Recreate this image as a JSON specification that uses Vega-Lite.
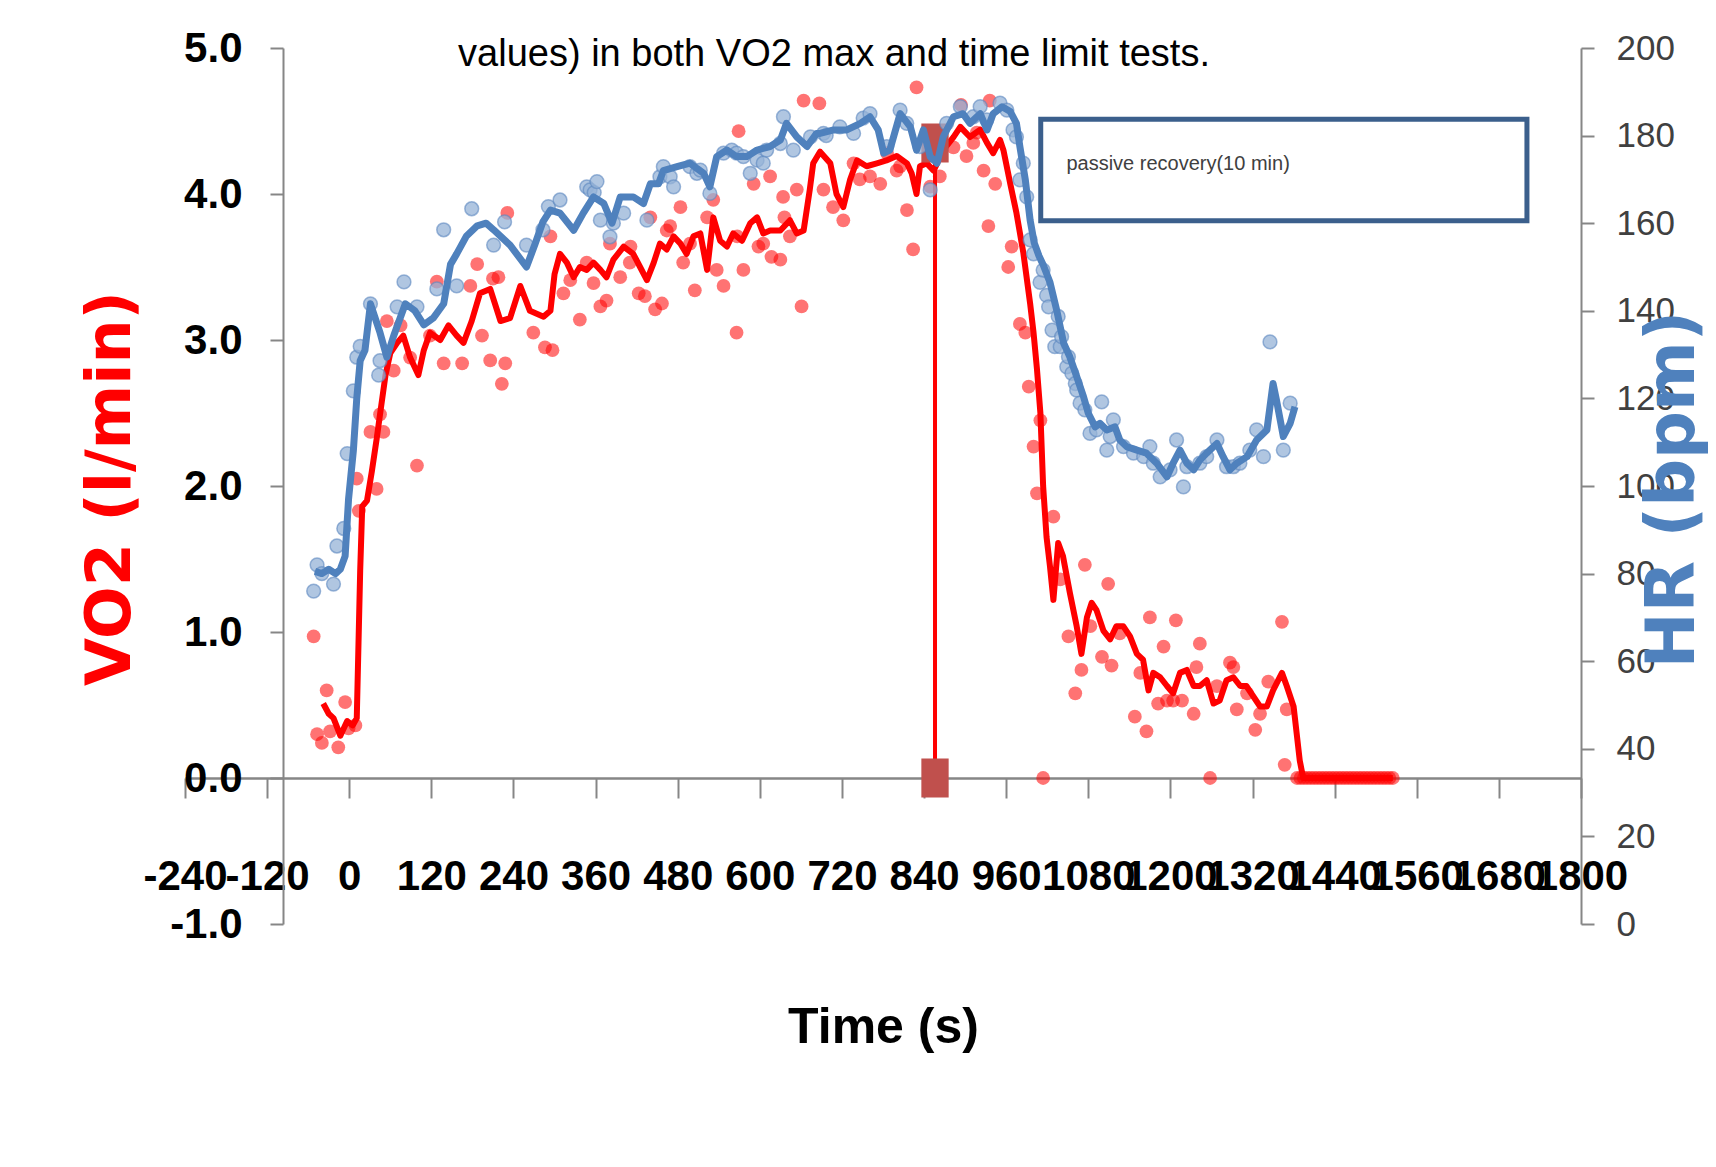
{
  "$schema": "https://vega.github.io/schema/vega-lite/v6.json",
  "width": 1396,
  "height": 876,
  "autosize": {"type": "none"},
  "padding": {"left": 185, "top": 48, "right": 135, "bottom": 243},
  "background": "white",
  "config": {"view": {"stroke": null}},
  "title": {
    "text": "values) in both VO2 max and time limit tests.",
    "font": "Liberation Sans",
    "fontSize": 38,
    "fontWeight": "normal",
    "color": "black",
    "anchor": "middle",
    "frame": "group",
    "offset": 0,
    "baseline": "alphabetic",
    "dx": -49,
    "dy": 77
  },
  "datasets": {
    "vo2_line": [
      {"t": -38, "vo2": 0.51}, {"t": -30, "vo2": 0.44}, {"t": -23, "vo2": 0.41}, {"t": -13, "vo2": 0.29}, {"t": -3, "vo2": 0.39}, {"t": 5, "vo2": 0.36}, {"t": 11, "vo2": 0.41}, {"t": 16, "vo2": 1.42}, {"t": 19, "vo2": 1.86}, {"t": 26, "vo2": 1.9}, {"t": 33, "vo2": 2.1}, {"t": 40, "vo2": 2.32}, {"t": 45, "vo2": 2.49}, {"t": 53, "vo2": 2.76}, {"t": 60, "vo2": 2.91}, {"t": 70, "vo2": 2.98}, {"t": 79, "vo2": 3.03}, {"t": 89, "vo2": 2.88}, {"t": 101, "vo2": 2.76}, {"t": 109, "vo2": 2.93}, {"t": 118, "vo2": 3.05}, {"t": 133, "vo2": 3.0}, {"t": 145, "vo2": 3.1}, {"t": 157, "vo2": 3.03}, {"t": 167, "vo2": 2.98}, {"t": 179, "vo2": 3.13}, {"t": 191, "vo2": 3.32}, {"t": 206, "vo2": 3.35}, {"t": 221, "vo2": 3.13}, {"t": 235, "vo2": 3.15}, {"t": 250, "vo2": 3.37}, {"t": 264, "vo2": 3.2}, {"t": 284, "vo2": 3.16}, {"t": 294, "vo2": 3.2}, {"t": 300, "vo2": 3.45}, {"t": 308, "vo2": 3.59}, {"t": 318, "vo2": 3.53}, {"t": 328, "vo2": 3.43}, {"t": 337, "vo2": 3.5}, {"t": 347, "vo2": 3.48}, {"t": 357, "vo2": 3.53}, {"t": 367, "vo2": 3.48}, {"t": 376, "vo2": 3.43}, {"t": 386, "vo2": 3.55}, {"t": 401, "vo2": 3.64}, {"t": 415, "vo2": 3.59}, {"t": 425, "vo2": 3.5}, {"t": 435, "vo2": 3.41}, {"t": 445, "vo2": 3.53}, {"t": 454, "vo2": 3.66}, {"t": 464, "vo2": 3.62}, {"t": 474, "vo2": 3.71}, {"t": 484, "vo2": 3.66}, {"t": 493, "vo2": 3.59}, {"t": 503, "vo2": 3.71}, {"t": 513, "vo2": 3.73}, {"t": 523, "vo2": 3.48}, {"t": 532, "vo2": 3.84}, {"t": 542, "vo2": 3.68}, {"t": 552, "vo2": 3.64}, {"t": 561, "vo2": 3.73}, {"t": 574, "vo2": 3.68}, {"t": 586, "vo2": 3.8}, {"t": 596, "vo2": 3.84}, {"t": 605, "vo2": 3.73}, {"t": 615, "vo2": 3.75}, {"t": 630, "vo2": 3.75}, {"t": 644, "vo2": 3.82}, {"t": 654, "vo2": 3.73}, {"t": 664, "vo2": 3.75}, {"t": 673, "vo2": 4.03}, {"t": 678, "vo2": 4.21}, {"t": 688, "vo2": 4.29}, {"t": 703, "vo2": 4.21}, {"t": 712, "vo2": 4.0}, {"t": 722, "vo2": 3.91}, {"t": 732, "vo2": 4.1}, {"t": 742, "vo2": 4.23}, {"t": 756, "vo2": 4.19}, {"t": 771, "vo2": 4.21}, {"t": 785, "vo2": 4.23}, {"t": 800, "vo2": 4.26}, {"t": 815, "vo2": 4.21}, {"t": 822, "vo2": 4.14}, {"t": 829, "vo2": 4.0}, {"t": 834, "vo2": 4.19}, {"t": 844, "vo2": 4.21}, {"t": 854, "vo2": 4.16}, {"t": 868, "vo2": 4.3}, {"t": 883, "vo2": 4.39}, {"t": 893, "vo2": 4.46}, {"t": 907, "vo2": 4.39}, {"t": 922, "vo2": 4.44}, {"t": 932, "vo2": 4.35}, {"t": 941, "vo2": 4.28}, {"t": 951, "vo2": 4.37}, {"t": 956, "vo2": 4.3}, {"t": 966, "vo2": 4.07}, {"t": 975, "vo2": 3.87}, {"t": 985, "vo2": 3.6}, {"t": 995, "vo2": 3.25}, {"t": 1000, "vo2": 3.05}, {"t": 1005, "vo2": 2.8}, {"t": 1010, "vo2": 2.5}, {"t": 1014, "vo2": 2.0}, {"t": 1019, "vo2": 1.65}, {"t": 1024, "vo2": 1.45}, {"t": 1029, "vo2": 1.22}, {"t": 1036, "vo2": 1.61}, {"t": 1043, "vo2": 1.52}, {"t": 1053, "vo2": 1.27}, {"t": 1063, "vo2": 1.04}, {"t": 1070, "vo2": 0.85}, {"t": 1078, "vo2": 1.1}, {"t": 1085, "vo2": 1.2}, {"t": 1092, "vo2": 1.15}, {"t": 1102, "vo2": 1.01}, {"t": 1112, "vo2": 0.95}, {"t": 1121, "vo2": 1.04}, {"t": 1131, "vo2": 1.04}, {"t": 1141, "vo2": 0.97}, {"t": 1151, "vo2": 0.85}, {"t": 1160, "vo2": 0.81}, {"t": 1168, "vo2": 0.6}, {"t": 1175, "vo2": 0.72}, {"t": 1185, "vo2": 0.69}, {"t": 1195, "vo2": 0.63}, {"t": 1204, "vo2": 0.58}, {"t": 1214, "vo2": 0.72}, {"t": 1224, "vo2": 0.74}, {"t": 1234, "vo2": 0.63}, {"t": 1243, "vo2": 0.63}, {"t": 1253, "vo2": 0.67}, {"t": 1263, "vo2": 0.51}, {"t": 1272, "vo2": 0.53}, {"t": 1282, "vo2": 0.67}, {"t": 1292, "vo2": 0.69}, {"t": 1302, "vo2": 0.63}, {"t": 1311, "vo2": 0.63}, {"t": 1321, "vo2": 0.56}, {"t": 1331, "vo2": 0.49}, {"t": 1341, "vo2": 0.49}, {"t": 1350, "vo2": 0.6}, {"t": 1363, "vo2": 0.72}, {"t": 1370, "vo2": 0.63}, {"t": 1380, "vo2": 0.49}, {"t": 1389, "vo2": 0.12}, {"t": 1394, "vo2": 0}, {"t": 1525, "vo2": 0}
    ],
    "vo2_points": [
      {"t": -52, "vo2": 0.97}, {"t": -47, "vo2": 0.3}, {"t": -40, "vo2": 0.24}, {"t": -33, "vo2": 0.6}, {"t": -28, "vo2": 0.32}, {"t": -16, "vo2": 0.21}, {"t": -6, "vo2": 0.52}, {"t": -1, "vo2": 0.34}, {"t": 9, "vo2": 0.36}, {"t": 11, "vo2": 2.05}, {"t": 14, "vo2": 1.83}, {"t": 31, "vo2": 2.37}, {"t": 40, "vo2": 1.98}, {"t": 45, "vo2": 2.49}, {"t": 50, "vo2": 2.37}, {"t": 55, "vo2": 3.13}, {"t": 65, "vo2": 2.79}, {"t": 75, "vo2": 3.1}, {"t": 89, "vo2": 2.88}, {"t": 99, "vo2": 2.14}, {"t": 118, "vo2": 3.03}, {"t": 128, "vo2": 3.4}, {"t": 138, "vo2": 2.84}, {"t": 165, "vo2": 2.84}, {"t": 177, "vo2": 3.37}, {"t": 187, "vo2": 3.52}, {"t": 194, "vo2": 3.03}, {"t": 206, "vo2": 2.86}, {"t": 210, "vo2": 3.42}, {"t": 218, "vo2": 3.43}, {"t": 223, "vo2": 2.7}, {"t": 228, "vo2": 2.84}, {"t": 231, "vo2": 3.87}, {"t": 269, "vo2": 3.05}, {"t": 286, "vo2": 2.95}, {"t": 294, "vo2": 3.71}, {"t": 297, "vo2": 2.93}, {"t": 313, "vo2": 3.32}, {"t": 323, "vo2": 3.41}, {"t": 337, "vo2": 3.14}, {"t": 347, "vo2": 3.53}, {"t": 357, "vo2": 3.39}, {"t": 367, "vo2": 3.23}, {"t": 376, "vo2": 3.27}, {"t": 381, "vo2": 3.66}, {"t": 396, "vo2": 3.43}, {"t": 410, "vo2": 3.53}, {"t": 411, "vo2": 3.64}, {"t": 423, "vo2": 3.32}, {"t": 432, "vo2": 3.3}, {"t": 440, "vo2": 3.84}, {"t": 447, "vo2": 3.21}, {"t": 457, "vo2": 3.25}, {"t": 464, "vo2": 3.75}, {"t": 469, "vo2": 3.78}, {"t": 484, "vo2": 3.91}, {"t": 488, "vo2": 3.53}, {"t": 498, "vo2": 3.66}, {"t": 505, "vo2": 3.34}, {"t": 523, "vo2": 3.84}, {"t": 532, "vo2": 3.96}, {"t": 537, "vo2": 3.48}, {"t": 547, "vo2": 3.37}, {"t": 566, "vo2": 3.05}, {"t": 567, "vo2": 3.71}, {"t": 569, "vo2": 4.43}, {"t": 576, "vo2": 3.48}, {"t": 591, "vo2": 4.07}, {"t": 598, "vo2": 3.64}, {"t": 605, "vo2": 3.66}, {"t": 615, "vo2": 4.12}, {"t": 617, "vo2": 3.57}, {"t": 630, "vo2": 3.55}, {"t": 634, "vo2": 3.98}, {"t": 636, "vo2": 3.84}, {"t": 644, "vo2": 3.71}, {"t": 654, "vo2": 4.03}, {"t": 661, "vo2": 3.23}, {"t": 664, "vo2": 4.64}, {"t": 687, "vo2": 4.62}, {"t": 693, "vo2": 4.03}, {"t": 707, "vo2": 3.91}, {"t": 722, "vo2": 3.82}, {"t": 737, "vo2": 4.21}, {"t": 746, "vo2": 4.1}, {"t": 761, "vo2": 4.12}, {"t": 776, "vo2": 4.07}, {"t": 786, "vo2": 4.28}, {"t": 800, "vo2": 4.16}, {"t": 805, "vo2": 4.19}, {"t": 815, "vo2": 3.89}, {"t": 824, "vo2": 3.62}, {"t": 829, "vo2": 4.73}, {"t": 849, "vo2": 4.05}, {"t": 863, "vo2": 4.12}, {"t": 883, "vo2": 4.32}, {"t": 894, "vo2": 4.61}, {"t": 902, "vo2": 4.26}, {"t": 912, "vo2": 4.35}, {"t": 917, "vo2": 4.42}, {"t": 927, "vo2": 4.16}, {"t": 934, "vo2": 3.78}, {"t": 936, "vo2": 4.64}, {"t": 944, "vo2": 4.07}, {"t": 963, "vo2": 3.5}, {"t": 968, "vo2": 3.64}, {"t": 980, "vo2": 3.11}, {"t": 988, "vo2": 3.05}, {"t": 993, "vo2": 2.68}, {"t": 1000, "vo2": 2.27}, {"t": 1005, "vo2": 1.95}, {"t": 1010, "vo2": 2.45}, {"t": 1014, "vo2": 0}, {"t": 1029, "vo2": 1.79}, {"t": 1039, "vo2": 1.36}, {"t": 1051, "vo2": 0.97}, {"t": 1061, "vo2": 0.58}, {"t": 1070, "vo2": 0.74}, {"t": 1075, "vo2": 1.46}, {"t": 1083, "vo2": 1.04}, {"t": 1100, "vo2": 0.83}, {"t": 1109, "vo2": 1.33}, {"t": 1114, "vo2": 0.77}, {"t": 1126, "vo2": 0.99}, {"t": 1148, "vo2": 0.42}, {"t": 1156, "vo2": 0.72}, {"t": 1165, "vo2": 0.32}, {"t": 1170, "vo2": 1.1}, {"t": 1182, "vo2": 0.51}, {"t": 1190, "vo2": 0.9}, {"t": 1195, "vo2": 0.53}, {"t": 1204, "vo2": 0.53}, {"t": 1208, "vo2": 1.08}, {"t": 1217, "vo2": 0.53}, {"t": 1234, "vo2": 0.44}, {"t": 1238, "vo2": 0.76}, {"t": 1243, "vo2": 0.92}, {"t": 1258, "vo2": 0}, {"t": 1268, "vo2": 0.63}, {"t": 1287, "vo2": 0.79}, {"t": 1292, "vo2": 0.76}, {"t": 1297, "vo2": 0.47}, {"t": 1312, "vo2": 0.58}, {"t": 1324, "vo2": 0.33}, {"t": 1331, "vo2": 0.44}, {"t": 1343, "vo2": 0.66}, {"t": 1363, "vo2": 1.07}, {"t": 1367, "vo2": 0.09}, {"t": 1370, "vo2": 0.47},
      {"t": 1385, "vo2": 0}, {"t": 1390, "vo2": 0}, {"t": 1395, "vo2": 0}, {"t": 1400, "vo2": 0}, {"t": 1405, "vo2": 0}, {"t": 1410, "vo2": 0}, {"t": 1415, "vo2": 0}, {"t": 1420, "vo2": 0}, {"t": 1425, "vo2": 0}, {"t": 1430, "vo2": 0}, {"t": 1435, "vo2": 0}, {"t": 1440, "vo2": 0}, {"t": 1445, "vo2": 0}, {"t": 1450, "vo2": 0}, {"t": 1455, "vo2": 0}, {"t": 1460, "vo2": 0}, {"t": 1465, "vo2": 0}, {"t": 1470, "vo2": 0}, {"t": 1475, "vo2": 0}, {"t": 1480, "vo2": 0}, {"t": 1485, "vo2": 0}, {"t": 1490, "vo2": 0}, {"t": 1495, "vo2": 0}, {"t": 1500, "vo2": 0}, {"t": 1505, "vo2": 0}, {"t": 1510, "vo2": 0}, {"t": 1515, "vo2": 0}, {"t": 1520, "vo2": 0}, {"t": 1525, "vo2": 0}
    ],
    "hr_line": [
      {"t": -50, "hr": 80.5}, {"t": -40, "hr": 80}, {"t": -30, "hr": 81}, {"t": -20, "hr": 80}, {"t": -13, "hr": 81}, {"t": -6, "hr": 84}, {"t": -1, "hr": 97}, {"t": 6, "hr": 108}, {"t": 11, "hr": 120}, {"t": 16, "hr": 128.6}, {"t": 23, "hr": 131}, {"t": 31, "hr": 141.6}, {"t": 45, "hr": 135}, {"t": 55, "hr": 129.4}, {"t": 65, "hr": 134.3}, {"t": 82, "hr": 141.6}, {"t": 96, "hr": 140}, {"t": 109, "hr": 136.8}, {"t": 123, "hr": 138.4}, {"t": 138, "hr": 141.6}, {"t": 148, "hr": 150.6}, {"t": 157, "hr": 153}, {"t": 171, "hr": 157}, {"t": 187, "hr": 159.4}, {"t": 200, "hr": 160}, {"t": 211, "hr": 158.5}, {"t": 235, "hr": 155}, {"t": 259, "hr": 150}, {"t": 271, "hr": 155}, {"t": 283, "hr": 160.3}, {"t": 294, "hr": 163}, {"t": 308, "hr": 162.3}, {"t": 328, "hr": 158.4}, {"t": 342, "hr": 162.3}, {"t": 357, "hr": 166}, {"t": 372, "hr": 164.5}, {"t": 384, "hr": 160}, {"t": 396, "hr": 166}, {"t": 415, "hr": 166}, {"t": 430, "hr": 164.5}, {"t": 440, "hr": 169}, {"t": 452, "hr": 169}, {"t": 459, "hr": 172}, {"t": 479, "hr": 172.9}, {"t": 498, "hr": 173.7}, {"t": 508, "hr": 172.5}, {"t": 518, "hr": 171.4}, {"t": 527, "hr": 168.3}, {"t": 537, "hr": 175.2}, {"t": 552, "hr": 176.7}, {"t": 566, "hr": 175.2}, {"t": 581, "hr": 175.2}, {"t": 596, "hr": 176.7}, {"t": 615, "hr": 177.5}, {"t": 630, "hr": 179}, {"t": 639, "hr": 182.8}, {"t": 654, "hr": 179.7}, {"t": 669, "hr": 177.5}, {"t": 683, "hr": 180.5}, {"t": 688, "hr": 180.5}, {"t": 708, "hr": 181.3}, {"t": 727, "hr": 181.3}, {"t": 747, "hr": 182.8}, {"t": 761, "hr": 184.3}, {"t": 773, "hr": 181.3}, {"t": 781, "hr": 176}, {"t": 790, "hr": 176.7}, {"t": 805, "hr": 185}, {"t": 820, "hr": 182}, {"t": 829, "hr": 176.7}, {"t": 839, "hr": 181.3}, {"t": 849, "hr": 175.2}, {"t": 859, "hr": 173.7}, {"t": 868, "hr": 179.7}, {"t": 883, "hr": 184.3}, {"t": 897, "hr": 185}, {"t": 907, "hr": 182.8}, {"t": 922, "hr": 185}, {"t": 932, "hr": 181.3}, {"t": 941, "hr": 185}, {"t": 954, "hr": 186.6}, {"t": 966, "hr": 185.5}, {"t": 975, "hr": 182.8}, {"t": 980, "hr": 177.5}, {"t": 988, "hr": 169.9}, {"t": 995, "hr": 160.7}, {"t": 1001, "hr": 155.5}, {"t": 1008, "hr": 152.5}, {"t": 1014, "hr": 150.5}, {"t": 1024, "hr": 146.5}, {"t": 1034, "hr": 140}, {"t": 1044, "hr": 132.6}, {"t": 1053, "hr": 129.5}, {"t": 1063, "hr": 125}, {"t": 1073, "hr": 120.4}, {"t": 1080, "hr": 116.6}, {"t": 1090, "hr": 113.5}, {"t": 1097, "hr": 114.3}, {"t": 1107, "hr": 112.8}, {"t": 1119, "hr": 113.5}, {"t": 1126, "hr": 110.5}, {"t": 1136, "hr": 109}, {"t": 1151, "hr": 108.2}, {"t": 1165, "hr": 107.5}, {"t": 1180, "hr": 105.2}, {"t": 1195, "hr": 102.1}, {"t": 1204, "hr": 105.2}, {"t": 1214, "hr": 108.2}, {"t": 1224, "hr": 105.2}, {"t": 1234, "hr": 103.7}, {"t": 1243, "hr": 105.9}, {"t": 1253, "hr": 107.5}, {"t": 1268, "hr": 109.7}, {"t": 1277, "hr": 106.7}, {"t": 1287, "hr": 103.7}, {"t": 1297, "hr": 105.2}, {"t": 1312, "hr": 106.7}, {"t": 1326, "hr": 110.5}, {"t": 1341, "hr": 112.8}, {"t": 1350, "hr": 123.4}, {"t": 1355, "hr": 119.6}, {"t": 1365, "hr": 111.3}, {"t": 1375, "hr": 114.3}, {"t": 1382, "hr": 118.1}
    ],
    "hr_points": [
      {"t": -52, "hr": 76}, {"t": -47, "hr": 82}, {"t": -40, "hr": 80}, {"t": -23, "hr": 77.6}, {"t": -18, "hr": 86.3}, {"t": -8, "hr": 90.3}, {"t": -3, "hr": 107.4}, {"t": 6, "hr": 121.7}, {"t": 11, "hr": 129.4}, {"t": 16, "hr": 131.9}, {"t": 31, "hr": 141.6}, {"t": 43, "hr": 125.3}, {"t": 45, "hr": 128.6}, {"t": 70, "hr": 140.9}, {"t": 80, "hr": 146.6}, {"t": 99, "hr": 140.9}, {"t": 128, "hr": 145}, {"t": 138, "hr": 158.5}, {"t": 157, "hr": 145.7}, {"t": 179, "hr": 163.3}, {"t": 211, "hr": 155}, {"t": 227, "hr": 160.3}, {"t": 259, "hr": 155}, {"t": 283, "hr": 158.5}, {"t": 291, "hr": 163.8}, {"t": 308, "hr": 165.3}, {"t": 347, "hr": 168.3}, {"t": 352, "hr": 167.6}, {"t": 358, "hr": 167}, {"t": 362, "hr": 169.5}, {"t": 367, "hr": 160.7}, {"t": 381, "hr": 156.9}, {"t": 386, "hr": 160}, {"t": 401, "hr": 162.3}, {"t": 435, "hr": 160.7}, {"t": 454, "hr": 170.6}, {"t": 459, "hr": 172.9}, {"t": 469, "hr": 170.6}, {"t": 474, "hr": 168.3}, {"t": 498, "hr": 172.9}, {"t": 508, "hr": 171.4}, {"t": 513, "hr": 172.1}, {"t": 527, "hr": 166.8}, {"t": 547, "hr": 176}, {"t": 559, "hr": 176.7}, {"t": 566, "hr": 176}, {"t": 576, "hr": 175.2}, {"t": 586, "hr": 171.4}, {"t": 596, "hr": 174.4}, {"t": 605, "hr": 173.7}, {"t": 610, "hr": 176.7}, {"t": 630, "hr": 178.2}, {"t": 634.5, "hr": 184.3}, {"t": 649, "hr": 176.7}, {"t": 674, "hr": 179.7}, {"t": 693, "hr": 180.5}, {"t": 697, "hr": 180}, {"t": 717, "hr": 182}, {"t": 737, "hr": 180.5}, {"t": 751, "hr": 184}, {"t": 761, "hr": 185}, {"t": 785.5, "hr": 177.5}, {"t": 805, "hr": 185.8}, {"t": 814.7, "hr": 182.8}, {"t": 834, "hr": 177.5}, {"t": 849, "hr": 167.6}, {"t": 873, "hr": 182.8}, {"t": 893, "hr": 186.6}, {"t": 912, "hr": 184.3}, {"t": 922, "hr": 186.6}, {"t": 931.6, "hr": 183.6}, {"t": 951, "hr": 187.4}, {"t": 961, "hr": 185.8}, {"t": 970, "hr": 181.3}, {"t": 975, "hr": 179.7}, {"t": 980, "hr": 169.9}, {"t": 985, "hr": 173.7}, {"t": 990, "hr": 166}, {"t": 995, "hr": 156.2}, {"t": 1000, "hr": 153}, {"t": 1009.5, "hr": 146.5}, {"t": 1014, "hr": 149.3}, {"t": 1019, "hr": 143.5}, {"t": 1022, "hr": 140.9}, {"t": 1027, "hr": 135.6}, {"t": 1031, "hr": 131.8}, {"t": 1036, "hr": 138.7}, {"t": 1039, "hr": 131.8}, {"t": 1041, "hr": 134.1}, {"t": 1048.5, "hr": 127.2}, {"t": 1051, "hr": 129.5}, {"t": 1056, "hr": 125.7}, {"t": 1061, "hr": 123.4}, {"t": 1063, "hr": 121.9}, {"t": 1068, "hr": 118.9}, {"t": 1075, "hr": 117.4}, {"t": 1082.5, "hr": 112}, {"t": 1092, "hr": 112.8}, {"t": 1099.6, "hr": 119.2}, {"t": 1107, "hr": 108.2}, {"t": 1112, "hr": 111.3}, {"t": 1116.6, "hr": 115.1}, {"t": 1131.5, "hr": 109}, {"t": 1146, "hr": 107.5}, {"t": 1161, "hr": 106.7}, {"t": 1170, "hr": 109}, {"t": 1175, "hr": 105.2}, {"t": 1185, "hr": 102.1}, {"t": 1199.5, "hr": 103.7}, {"t": 1209, "hr": 110.5}, {"t": 1219, "hr": 99.8}, {"t": 1224, "hr": 104.4}, {"t": 1243, "hr": 105.2}, {"t": 1253, "hr": 106.7}, {"t": 1268, "hr": 110.5}, {"t": 1282, "hr": 104.4}, {"t": 1292, "hr": 104.4}, {"t": 1301.5, "hr": 105.2}, {"t": 1316, "hr": 108.2}, {"t": 1326, "hr": 112.8}, {"t": 1336, "hr": 106.7}, {"t": 1345.5, "hr": 132.9}, {"t": 1365, "hr": 108.2}, {"t": 1375, "hr": 118.9}
    ]
  },
  "encoding": {
    "x": {
      "field": "t",
      "type": "quantitative",
      "scale": {"domain": [-240, 1800], "nice": false, "zero": false},
      "axis": {
        "orient": "bottom",
        "offset": -146,
        "values": [-240, -120, 0, 120, 240, 360, 480, 600, 720, 840, 960, 1080, 1200, 1320, 1440, 1560, 1680, 1800],
        "labelExpr": "toString(datum.value)",
        "grid": false,
        "labelFont": "Liberation Sans",
        "labelFontWeight": "bold",
        "labelFontSize": 42,
        "labelColor": "#000000",
        "labelPadding": 58,
        "labelOverlap": false,
        "labelFlush": false,
        "labelBound": false,
        "tickSize": 20,
        "tickWidth": 2,
        "tickColor": "#868686",
        "domainColor": "#868686",
        "domainWidth": 2.5,
        "title": "Time (s)",
        "titleFont": "Liberation Sans",
        "titleFontWeight": "bold",
        "titleFontSize": 50,
        "titleColor": "#000000",
        "titleAlign": "center",
        "titleBaseline": "alphabetic",
        "titleX": 698,
        "titleY": 264
      }
    }
  },
  "layer": [
    {
      "encoding": {
        "y": {
          "field": "vo2",
          "type": "quantitative",
          "scale": {"domain": [-1, 5], "nice": false, "zero": false},
          "axis": {
            "orient": "left",
            "offset": -98,
            "values": [-1, 0, 1, 2, 3, 4, 5],
            "labelExpr": "replace(format(datum.value, '.1f'), '\u2212', '-')",
            "grid": false,
            "labelFont": "Liberation Sans",
            "labelFontWeight": "bold",
            "labelFontSize": 42,
            "labelColor": "#000000",
            "labelPadding": 28,
            "labelOverlap": false,
            "labelFlush": false,
            "labelBound": false,
            "tickSize": 13,
            "tickWidth": 2,
            "tickColor": "#868686",
            "domainColor": "#868686",
            "domainWidth": 2,
            "title": "VO2 (l/min)",
            "titleFont": "DejaVu Sans",
            "titleFontWeight": "bold",
            "titleFontSize": 62,
            "titleColor": "#ff0000",
            "titleAngle": 270,
            "titleAlign": "center",
            "titleBaseline": "alphabetic",
            "titleX": -154,
            "titleY": 440
          }
        }
      },
      "layer": [
        {
          "data": {"name": "vo2_points"},
          "mark": {"type": "circle", "size": 190, "color": "#ff0000", "opacity": 0.55}
        },
        {
          "data": {"name": "vo2_line"},
          "mark": {"type": "line", "color": "#ff0000", "strokeWidth": 6, "strokeJoin": "round"}
        },
        {
          "data": {"values": [{"t": 856, "vo2": 0, "vo2_top": 4.4}]},
          "mark": {"type": "rule", "color": "#ff0000", "strokeWidth": 4},
          "encoding": {"y2": {"field": "vo2_top"}}
        },
        {
          "data": {"values": [{"t": 856, "vo2": 0}, {"t": 856, "vo2": 4.35}]},
          "mark": {"type": "point", "shape": "M-0.7,-1H0.7V1H-0.7Z", "filled": true, "color": "#c0504d", "opacity": 1, "size": 1521}
        },
        {
          "data": {"values": [{"t": 1010.5, "t_end": 1721, "vo2": 4.512, "vo2_end": 3.817}]},
          "mark": {"type": "rect", "fill": "#ffffff", "stroke": "#3b5f8c", "strokeWidth": 5},
          "encoding": {"x2": {"field": "t_end"}, "y2": {"field": "vo2_end"}}
        },
        {
          "data": {"values": [{"t": 1048, "vo2": 4.164, "label": "passive recovery(10 min)"}]},
          "mark": {"type": "text", "align": "left", "baseline": "alphabetic", "font": "Liberation Sans", "fontSize": 20, "color": "#404040"},
          "encoding": {"text": {"field": "label"}}
        }
      ]
    },
    {
      "encoding": {
        "y": {
          "field": "hr",
          "type": "quantitative",
          "scale": {"domain": [0, 200], "nice": false, "zero": false},
          "axis": {
            "orient": "right",
            "values": [0, 20, 40, 60, 80, 100, 120, 140, 160, 180, 200],
            "grid": false,
            "labelFont": "Liberation Sans",
            "labelFontSize": 35,
            "labelColor": "#404040",
            "labelPadding": 22,
            "labelOverlap": false,
            "labelFlush": false,
            "labelBound": false,
            "tickSize": 13,
            "tickWidth": 2,
            "tickColor": "#868686",
            "domainColor": "#868686",
            "domainWidth": 2,
            "title": "HR (bpm)",
            "titleFont": "DejaVu Sans",
            "titleFontWeight": "bold",
            "titleFontSize": 67,
            "titleColor": "#4f81bd",
            "titleAngle": 270,
            "titleAlign": "center",
            "titleBaseline": "alphabetic",
            "titleX": 112,
            "titleY": 441
          }
        }
      },
      "layer": [
        {
          "data": {"name": "hr_points"},
          "mark": {"type": "circle", "size": 190, "fill": "#95b3d7", "fillOpacity": 0.75, "stroke": "#5b87c0", "strokeOpacity": 0.6, "strokeWidth": 1.5}
        },
        {
          "data": {"name": "hr_line"},
          "mark": {"type": "line", "color": "#4f81bd", "strokeWidth": 7, "strokeJoin": "round"}
        }
      ]
    }
  ],
  "resolve": {"scale": {"y": "independent"}}
}
